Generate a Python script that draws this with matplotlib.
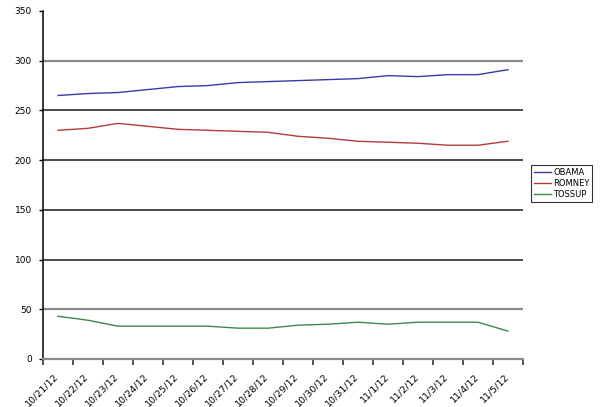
import matplotlib
matplotlib.use("Agg")
import matplotlib.pyplot as plt
import numpy as np

dates = ["10/21/12", "10/22/12", "10/23/12", "10/24/12", "10/25/12", "10/26/12",
         "10/27/12", "10/28/12", "10/29/12", "10/30/12", "10/31/12", "11/1/12",
         "11/2/12", "11/3/12", "11/4/12", "11/5/12"]
obama = [265, 267, 268, 271, 274, 275, 278, 279, 280, 281, 282, 285, 284, 286, 286, 291]
romney = [230, 232, 237, 234, 231, 230, 229, 228, 224, 222, 219, 218, 217, 215, 215, 219]
tossup = [43, 39, 33, 33, 33, 33, 31, 31, 34, 35, 37, 35, 37, 37, 37, 28]
yticks = [0, 50, 100, 150, 200, 250, 300, 350]

fig = plt.figure(figsize=(6.0, 4.07), dpi=100)
ax = fig.add_axes([43/600, 1-359/407, 480/600, 348/407])

x = np.arange(len(dates))
for yv in yticks[1:-1]:
    col = "#8a8a8a" if yv in (50, 300) else "#1a1a1a"
    lw = 1.6 if yv in (50, 300) else 1.1
    ax.axhline(yv, color=col, lw=lw, zorder=1)

ax.plot(x, obama, color="#3a3aa8", lw=1.0, label="OBAMA", zorder=3)
ax.plot(x, romney, color="#b53a3a", lw=1.0, label="ROMNEY", zorder=3)
ax.plot(x, tossup, color="#3a8a4a", lw=1.0, label="TOSSUP", zorder=3)

ax.set_xlim(-0.5, len(dates) - 0.5)
ax.set_ylim(0, 350)
ax.set_yticks(yticks)
ax.tick_params(axis="y", labelsize=6.5, length=3, width=1, pad=5, colors="black")

ax.set_xticks(x)
ax.set_xticklabels(dates, rotation=45, ha="right", rotation_mode="anchor", fontsize=6.8)
ax.set_xticks(np.arange(-0.5, len(dates)), minor=True)
ax.tick_params(axis="x", which="major", length=0, pad=9)
ax.tick_params(axis="x", which="minor", length=4, width=1.2, color="#333333")
offset = matplotlib.transforms.ScaledTranslation(-4/100, 0, fig.dpi_scale_trans)
for lab in ax.get_xticklabels():
    lab.set_transform(lab.get_transform() + offset)

for s in ("top", "right"):
    ax.spines[s].set_visible(False)
ax.spines["left"].set_color("black")
ax.spines["left"].set_linewidth(1.1)
ax.spines["bottom"].set_color("#8a8a8a")
ax.spines["bottom"].set_linewidth(1.6)

leg = fig.legend(loc="upper left", bbox_to_anchor=(531/600, 1-165/407), fontsize=6,
                 frameon=True, fancybox=False, edgecolor="black", handlelength=2.0,
                 handletextpad=0.3, borderpad=0.35, labelspacing=0.25, borderaxespad=0)
leg.get_frame().set_linewidth(0.8)

fig.savefig("out.png", dpi=100, facecolor="white")
